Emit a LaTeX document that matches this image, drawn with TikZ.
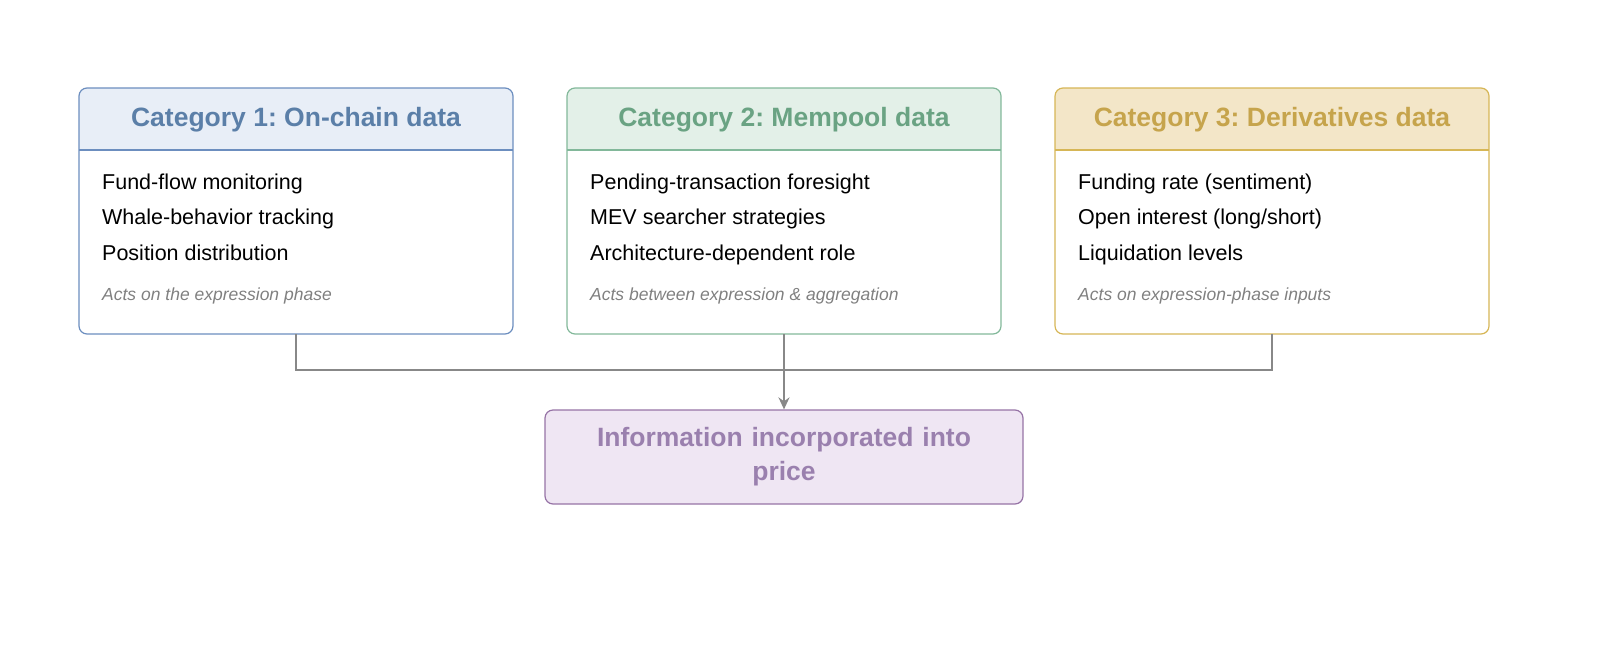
\documentclass[tikz,border=0pt]{standalone}
\usepackage{fontspec}
\setmainfont{Liberation Sans}
\frenchspacing
\usetikzlibrary{arrows.meta}
\definecolor{bB}{HTML}{6C8EBF}\definecolor{bF}{HTML}{E8EEF7}\definecolor{bT}{HTML}{5B7FA8}
\definecolor{gB}{HTML}{82B89A}\definecolor{gF}{HTML}{E3F0E8}\definecolor{gT}{HTML}{6AA383}
\definecolor{yB}{HTML}{D6B656}\definecolor{yF}{HTML}{F3E6C8}\definecolor{yT}{HTML}{C6A44C}
\definecolor{pB}{HTML}{9673A6}\definecolor{pF}{HTML}{EFE6F3}\definecolor{pT}{HTML}{9A80AE}
\definecolor{ln}{HTML}{888888}
\begin{document}
\begin{tikzpicture}[x=1pt,y=-1pt,
 card/.style={draw=#1,line width=1.2pt,rounded corners=8pt},
 ttl/.style={font=\fontsize{26.5}{30}\selectfont\bfseries,anchor=center},
 item/.style={font=\fontsize{21.5}{24}\selectfont,anchor=base west,inner sep=0},
 note/.style={font=\fontsize{17.5}{20}\selectfont\itshape,text=gray,anchor=base west,inner sep=0},
 conn/.style={draw=ln,line width=2.4pt}]
\foreach \x/\c/\t/\a/\b/\d/\n [count=\i] in {
 79/b/{Category 1: On-chain data}/{Fund-flow monitoring}/{Whale-behavior tracking}/{Position distribution}/{Acts on the expression phase},
 567/g/{Category 2: Mempool data}/{Pending-transaction foresight}/{MEV searcher strategies}/{Architecture-dependent role}/{Acts between expression \& aggregation},
 1055/y/{Category 3: Derivatives data}/{Funding rate (sentiment)}/{Open interest (long/short)}/{Liquidation levels}/{Acts on expression-phase inputs}}{
 \begin{scope}
 \clip[rounded corners=8pt] (\x,88) rectangle (\x+434,334);
 \fill[\c F] (\x,88) rectangle (\x+434,150);
 \end{scope}
 \draw[\c B,line width=1.2pt] (\x,150) -- (\x+434,150);
 \draw[card=\c B] (\x,88) rectangle (\x+434,334);
 \node[ttl,text=\c T] (t\i) at (\x+217,120) {\t};
 \node[item] (a\i) at (\x+23,189) {\a};
 \node[item] (b\i) at (\x+23,224) {\b};
 \node[item] (c\i) at (\x+23,260) {\d};
 \node[note] (n\i) at (\x+23,300) {\n};
 \coordinate (s\i) at (\x+217,334);
}
\node[draw=pB,fill=pF,line width=1.2pt,rounded corners=8pt,minimum width=478pt,minimum height=94pt,
 text width=420pt,align=center,text=pT,font=\fontsize{26.5}{34}\selectfont\bfseries] (res) at (784,457)
 {Information incorporated into\\price};
\coordinate (j1) at (296,370);\coordinate (j3) at (1272,370);\coordinate (j2) at (784,370);
\draw[conn] (s1) -- (j1) -- (j3) -- (s3);
\draw[conn] (s2) -- (j2);
\draw[conn,-{Stealth[length=12pt,width=11pt]},color=ln] (j2) -- (res.north);
\pgfresetboundingbox
\useasboundingbox (0,0) rectangle (1600,667);
\end{tikzpicture}
\end{document}
